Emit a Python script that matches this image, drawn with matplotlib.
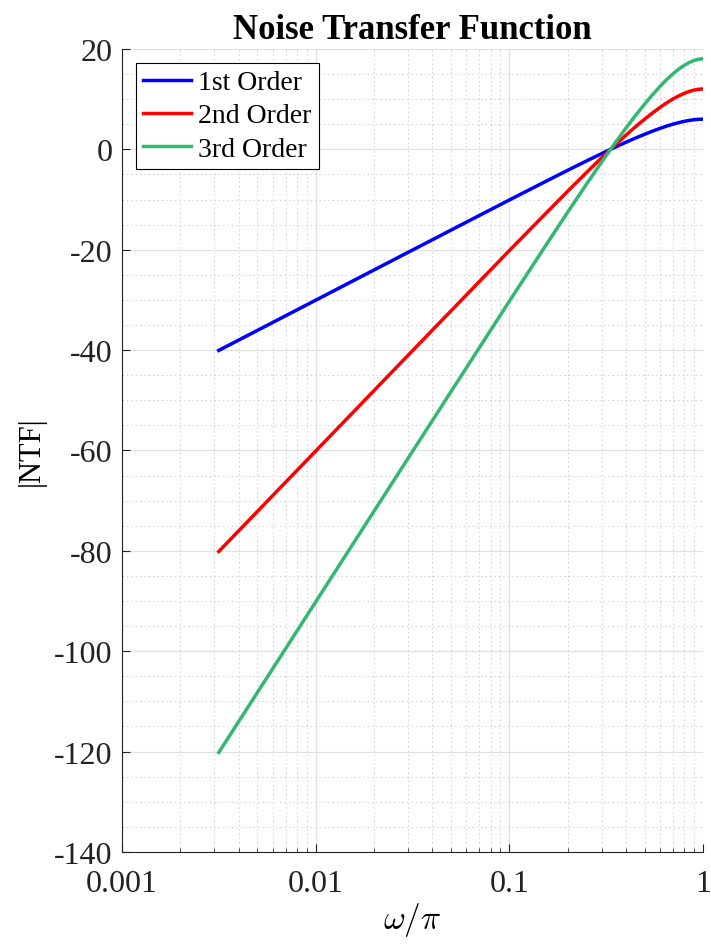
import numpy as np
import matplotlib.pyplot as plt
from matplotlib.ticker import FixedLocator, NullFormatter, MultipleLocator

plt.rcParams['font.family'] = ['Liberation Serif', 'DejaVu Serif']
plt.rcParams['mathtext.fontset'] = 'cm'

# normalised frequency w/pi
w = [0.00316, 0.01, 0.03, 0.05, 0.1, 0.15, 0.2, 0.25, 0.3, 0.35, 0.4,
     0.45, 0.5, 0.55, 0.6, 0.65, 0.7, 0.75, 0.8, 0.85, 0.9, 0.95, 1.0]
ntf1 = [-40.06, -30.06, -20.52, -16.09, -10.09, -6.62, -4.18, -2.32, -0.84,
        0.39, 1.41, 2.28, 3.01, 3.64, 4.18, 4.64, 5.02, 5.33, 5.58, 5.77,
        5.91, 5.99, 6.02]
ntf2 = [-80.12, -60.12, -41.04, -32.18, -20.18, -13.24, -8.36, -4.64, -1.68,
        0.78, 2.82, 4.56, 6.02, 7.28, 8.36, 9.28, 10.04, 10.66, 11.16, 11.54,
        11.82, 11.98, 12.04]
ntf3 = [-120.18, -90.18, -61.56, -48.27, -30.27, -19.86, -12.54, -6.96, -2.52,
        1.17, 4.23, 6.84, 9.03, 10.92, 12.54, 13.92, 15.06, 15.99, 16.74,
        17.31, 17.73, 17.97, 18.06]
labels = ['1st Order', '2nd Order', '3rd Order']
colors = ['#0000FF', '#FF0000', '#33B872']

fig = plt.figure(figsize=(7.11, 9.45), dpi=100)
ax = fig.add_axes([0.1716, 0.0974, 0.8171, 0.8497])

for y, lab, c in zip([ntf1, ntf2, ntf3], labels, colors):
    ax.semilogx(w, y, color=c, lw=2.5, label=lab)

ax.set_xlim(0.001, 1)
ax.set_ylim(-140, 20)
ax.set_xticks([0.001, 0.01, 0.1, 1])
ax.set_xticklabels(['0.001', '0.01', '0.1', '1'])
minors = [m * 10.0**e for e in (-3, -2, -1) for m in range(2, 10)]
ax.xaxis.set_minor_locator(FixedLocator(minors))
ax.xaxis.set_minor_formatter(NullFormatter())
ax.yaxis.set_major_locator(MultipleLocator(20))
ax.yaxis.set_minor_locator(MultipleLocator(5))
ax.set_yticklabels([str(int(v)) for v in ax.get_yticks()])

ax.grid(which='major', color='#E0E0E0', lw=0.9)
ax.grid(which='minor', color='#CFCFCF', lw=0.7, ls=(0, (1.5, 3)))
ax.tick_params(which='both', direction='in', labelsize=23, colors='#222222')
ax.tick_params(which='major', length=6)
ax.tick_params(which='minor', length=3)
ax.tick_params(axis='y', which='minor', length=0)
ax.tick_params(axis='x', which='major', pad=12)
ax.tick_params(axis='y', which='major', pad=7)
for s in ['top', 'right']:
    ax.spines[s].set_visible(False)
for s in ['left', 'bottom']:
    ax.spines[s].set_color('#222222')

ax.set_xlabel(r'$\omega/\pi$', fontsize=24, labelpad=2)
ax.set_ylabel('|NTF|', fontsize=22, labelpad=6)
ax.set_title('Noise Transfer Function', fontsize=25, fontweight='bold', pad=8)

leg = ax.legend(loc='upper left', fontsize=20, fancybox=False, framealpha=1,
                edgecolor='black', borderpad=0.25, labelspacing=0.28,
                handlelength=1.75, handletextpad=0.25, borderaxespad=0.5)
leg.get_frame().set_linewidth(0.8)

plt.savefig('out.png', dpi=100)
